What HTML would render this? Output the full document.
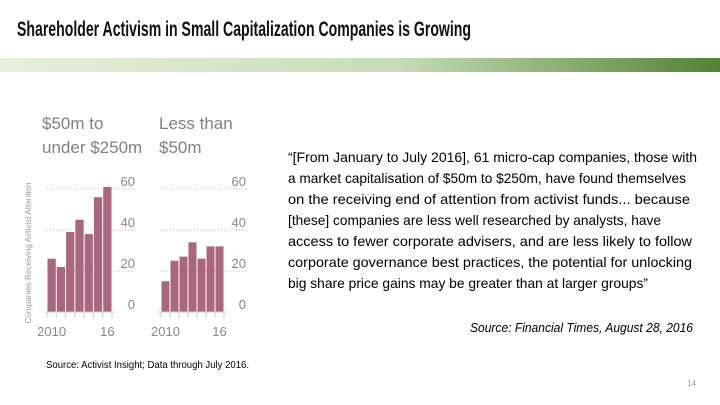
<!DOCTYPE html>
<html><head><meta charset="utf-8"><style>
html,body{margin:0;padding:0;background:#fff;}
svg{display:block;font-family:"Liberation Sans",sans-serif;}
</style></head><body>
<svg width="720" height="405" viewBox="0 0 720 405">
<defs><linearGradient id="g" x1="0" x2="1"><stop offset="0" stop-color="#e6f0de"/><stop offset="0.55" stop-color="#c6ddb7"/><stop offset="1" stop-color="#548235"/></linearGradient></defs>
<text x="17" y="36" font-size="21" font-weight="bold" fill="#111" textLength="454" lengthAdjust="spacingAndGlyphs">Shareholder Activism in Small Capitalization Companies is Growing</text>
<rect x="0" y="58" width="720" height="14" fill="url(#g)"/>
<text fill="#808080" font-size="17"><tspan x="42" y="129">$50m to</tspan><tspan x="42" y="153">under $250m</tspan></text>
<text fill="#808080" font-size="17"><tspan x="159" y="129">Less than</tspan><tspan x="159" y="153">$50m</tspan></text>
<text transform="translate(31,253) rotate(-90)" text-anchor="middle" font-size="8" fill="#999" textLength="141" lengthAdjust="spacingAndGlyphs">Companies Receiving Activist Attention</text>
<g id="chart"></g>
<text x="46" y="368" font-size="10" fill="#000" textLength="203" lengthAdjust="spacingAndGlyphs">Source: Activist Insight; Data through July 2016.</text>
<g font-size="14" fill="#000">
<text x="288" y="162" textLength="409" lengthAdjust="spacingAndGlyphs">“[From January to July 2016], 61 micro-cap companies, those with</text>
<text x="288" y="183" textLength="398" lengthAdjust="spacingAndGlyphs">a market capitalisation of $50m to $250m, have found themselves</text>
<text x="288" y="204" textLength="402" lengthAdjust="spacingAndGlyphs">on the receiving end of attention from activist funds... because</text>
<text x="288" y="225" textLength="373" lengthAdjust="spacingAndGlyphs">[these] companies are less well researched by analysts, have</text>
<text x="288" y="246" textLength="404" lengthAdjust="spacingAndGlyphs">access to fewer corporate advisers, and are less likely to follow</text>
<text x="288" y="267" textLength="404" lengthAdjust="spacingAndGlyphs">corporate governance best practices, the potential for unlocking</text>
<text x="288" y="288" textLength="360" lengthAdjust="spacingAndGlyphs">big share price gains may be greater than at larger groups”</text>
</g>
<text x="470" y="332" font-size="13" font-style="italic" fill="#000" textLength="223" lengthAdjust="spacingAndGlyphs">Source: Financial Times, August 28, 2016</text>
<text x="696" y="386" font-size="8" fill="#999" text-anchor="end">14</text>
</svg>
<script>
const years=["2010","2011","2012","2013","2014","2015","16"];
const midCap=[26,22,39,45,38,56,61];
const microCap=[15,25,27,34,26,32,32];
const yTicks=[0,20,40,60];
const NS="http://www.w3.org/2000/svg";
const g=document.getElementById('chart');
function mk(t,a){const e=document.createElementNS(NS,t);for(const k in a)e.setAttribute(k,a[k]);g.appendChild(e);return e;}
const y0=312,ppu=2.05;
function yS(v){return y0-v*ppu;}
function panel(x0,x1,gridEnd,vals,name){
  const n=vals.length,bw=(x1-x0)/n;
  function xS(i){return x0+i*bw;}
  yTicks.forEach(t=>{
    if(t>0){const l=mk('line',{x1:x0,x2:gridEnd,y1:yS(t),y2:yS(t),stroke:'#bbb','stroke-width':1,'stroke-dasharray':'1,2'});
    
    }
    const tx=mk('text',{x:gridEnd,y:yS(t)-3,'text-anchor':'end','font-size':13,fill:'#888'});
    tx.textContent=t;
    
    
  });
  vals.forEach((v,i)=>{
    const r=mk('rect',{x:xS(i)+0.5,y:yS(v),width:bw-1,height:v*ppu,fill:'#a8677f'});
    
    
  });
  const ax=mk('line',{x1:x0-3,x2:x1+3,y1:y0,y2:y0,stroke:'#ccc','stroke-width':1});
  
  
  for(let i=0;i<=n;i++){const t=mk('line',{x1:xS(i),x2:xS(i),y1:y0,y2:y0+6,stroke:'#ccc','stroke-width':1});
    
    }
  [[0,years[0]],[n-1,years[n-1]]].forEach(([i,lab])=>{
    const tx=mk('text',{x:xS(i)+bw/2,y:336,'text-anchor':'middle','font-size':13,fill:'#888'});
    tx.textContent=lab;
    
    
  });
}
panel(47,112,135,midCap,'mid-cap');
panel(161,224,246,microCap,'micro-cap');
</script>
</body></html>
